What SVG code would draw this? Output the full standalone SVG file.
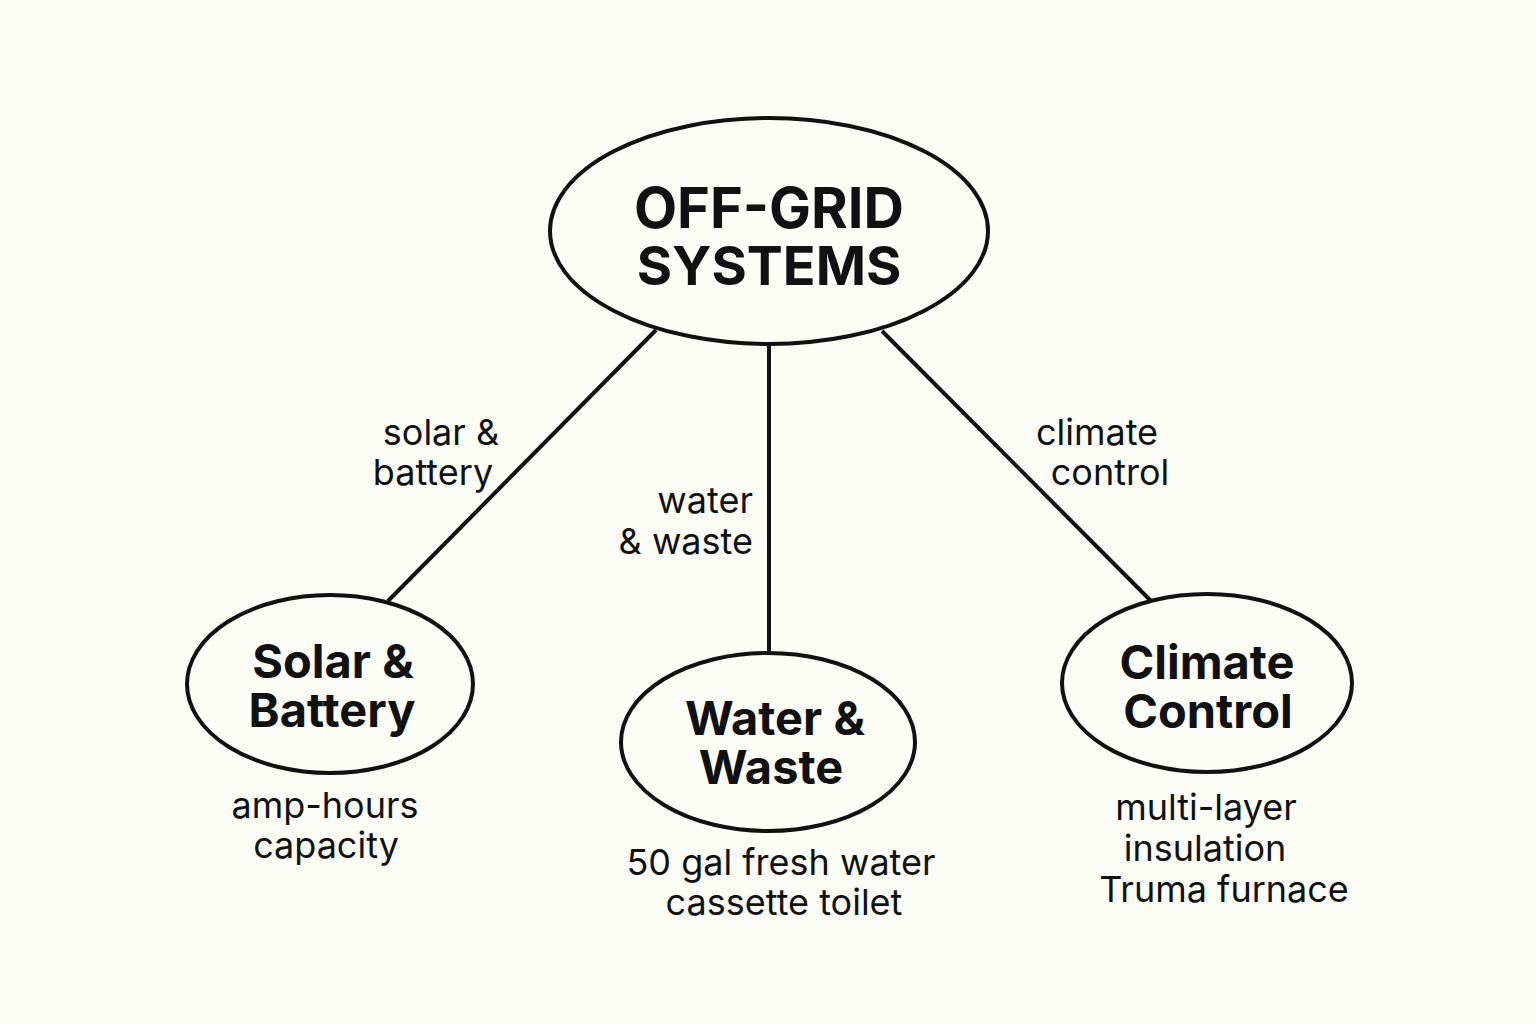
<svg xmlns="http://www.w3.org/2000/svg" width="1536" height="1024" viewBox="0 0 1536 1024">
<style>
.node ellipse{fill:#fdfdf8;stroke:#111;stroke-width:4}
.title{font-family:Inter,"Liberation Sans",sans-serif;font-weight:700;fill:#111;text-anchor:middle}
.lbl{font-family:Inter,"Liberation Sans",sans-serif;font-size:36px;fill:#111}
.c{text-anchor:middle}
.e{text-anchor:end}
#connectors line{stroke:#111;stroke-width:4}
</style>
<rect width="1536" height="1024" fill="#fcfcf7"/>
<g id="connectors">
<line x1="656" y1="330" x2="388" y2="601"/>
<line x1="769" y1="346" x2="769" y2="653"/>
<line x1="882" y1="331" x2="1151" y2="601"/>
</g>
<g id="edge-labels">
<text class="lbl c" x="441" y="445">solar &amp;</text>
<text class="lbl c" x="433" y="485">battery</text>
<text class="lbl e" x="753" y="513">water</text>
<text class="lbl e" x="753" y="554">&amp; waste</text>
<text class="lbl c" x="1097" y="445">climate</text>
<text class="lbl c" x="1110" y="485">control</text>
</g>
<g id="root" class="node">
<ellipse cx="769" cy="231" rx="219" ry="113"/>
<text class="title" x="769" y="228" font-size="56">OFF-GRID</text>
<text class="title" x="769" y="285" font-size="54">SYSTEMS</text>
</g>
<g id="solar" class="node">
<ellipse cx="330" cy="684" rx="143" ry="89"/>
<text class="title" x="333" y="678" font-size="47">Solar &amp;</text>
<text class="title" x="332" y="727" font-size="47">Battery</text>
<text class="lbl c" x="325" y="818">amp-hours</text>
<text class="lbl c" x="326" y="858">capacity</text>
</g>
<g id="water" class="node">
<ellipse cx="768" cy="742" rx="147" ry="89"/>
<text class="title" x="775" y="735" font-size="47">Water &amp;</text>
<text class="title" x="771" y="784" font-size="47">Waste</text>
<text class="lbl c" x="781" y="875">50 gal fresh water</text>
<text class="lbl c" x="784" y="915">cassette toilet</text>
</g>
<g id="climate" class="node">
<ellipse cx="1207" cy="683" rx="145" ry="89"/>
<text class="title" x="1207" y="679" font-size="47">Climate</text>
<text class="title" x="1208" y="728" font-size="47">Control</text>
<text class="lbl c" x="1206" y="820">multi-layer</text>
<text class="lbl c" x="1205" y="861">insulation</text>
<text class="lbl c" x="1224" y="902">Truma furnace</text>
</g>
</svg>
